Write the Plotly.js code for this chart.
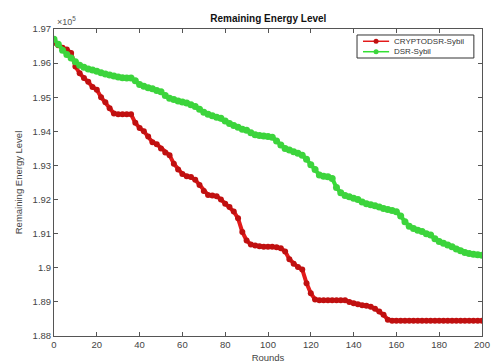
<!DOCTYPE html>
<html>
<head>
<meta charset="utf-8">
<script src="https://cdn.plot.ly/plotly-3.0.1.min.js"></script>
<style>html,body{margin:0;padding:0;background:#fff;}#chart{width:495px;height:363px;}</style>
</head>
<body>
<div id="chart"></div>
<script>
// Rounds (every 2 rounds)
const rounds = [0,2,4,6,8,10,12,14,16,18,20,22,24,26,28,30,32,34,36,38,40,42,44,46,48,50,52,54,56,58,60,62,64,66,68,70,72,74,76,78,80,82,84,86,88,90,92,94,96,98,100,102,104,106,108,110,112,114,116,118,120,122,124,126,128,130,132,134,136,138,140,142,144,146,148,150,152,154,156,158,160,162,164,166,168,170,172,174,176,178,180,182,184,186,188,190,192,194,196,198,200];

// Remaining energy (x1e5) – CRYPTODSR-Sybil
const cryptoDSR = [1.9660,1.9652,1.9645,1.9640,1.9630,1.9590,1.9570,1.9556,1.9545,1.9530,1.9522,1.9500,1.9485,1.9468,1.9452,1.9450,1.9450,1.9450,1.9450,1.9425,
1.9410,1.9400,1.9385,1.9368,1.9362,1.9350,1.9338,1.9330,1.9305,1.9288,1.9275,1.9268,1.9266,1.9258,1.9243,1.9225,1.9213,1.9212,1.9210,1.9200,
1.9188,1.9178,1.9165,1.9145,1.9105,1.9080,1.9068,1.9065,1.9063,1.9062,1.9062,1.9062,1.9060,1.9057,1.9048,1.9025,1.9012,1.9002,1.8995,1.8955,
1.8925,1.8907,1.8905,1.8905,1.8905,1.8905,1.8905,1.8905,1.8905,1.8900,1.8896,1.8893,1.8890,1.8889,1.8886,1.8880,1.8872,1.8862,1.8848,1.8845,
1.8845,1.8845,1.8845,1.8845,1.8845,1.8845,1.8845,1.8845,1.8845,1.8845,1.8845,1.8845,1.8845,1.8845,1.8845,1.8845,1.8845,1.8845,1.8845,1.8845,1.8845];

// Remaining energy (x1e5) – DSR-Sybil
const dsr = [1.9670,1.9655,1.9638,1.9625,1.9615,1.9604,1.9594,1.9588,1.9583,1.9580,1.9576,1.9572,1.9568,1.9565,1.9562,1.9559,1.9557,1.9556,1.9556,1.9548,
1.9537,1.9532,1.9528,1.9525,1.9520,1.9516,1.9505,1.9497,1.9493,1.9489,1.9486,1.9483,1.9478,1.9473,1.9465,1.9456,1.9450,1.9446,1.9441,1.9438,
1.9430,1.9423,1.9417,1.9412,1.9406,1.9403,1.9396,1.9390,1.9388,1.9386,1.9385,1.9383,1.9372,1.9360,1.9350,1.9345,1.9340,1.9336,1.9330,1.9318,
1.9302,1.9288,1.9272,1.9268,1.9267,1.9262,1.9235,1.9220,1.9212,1.9208,1.9204,1.9200,1.9193,1.9188,1.9185,1.9182,1.9178,1.9174,1.9171,1.9168,
1.9164,1.9152,1.9135,1.9122,1.9115,1.9110,1.9106,1.9100,1.9096,1.9085,1.9077,1.9072,1.9067,1.9062,1.9055,1.9050,1.9045,1.9042,1.9040,1.9038,1.9037];

const xTicks = [0,20,40,60,80,100,120,140,160,180,200];
const yTicks = [1.88,1.89,1.9,1.91,1.92,1.93,1.94,1.95,1.96,1.97];
const names = ['CRYPTODSR-Sybil','DSR-Sybil'];
const lineColors = ['#e31a1a', '#33e033'];
const markerColors = ['#c01010', '#3cd43c'];

const traces = [
  {x: rounds, y: cryptoDSR, name: names[0], mode: 'lines+markers', type: 'scatter',
   line: {color: lineColors[0], width: 4}, marker: {color: markerColors[0], size: 6, symbol: 'circle'}},
  {x: rounds, y: dsr, name: names[1], mode: 'lines+markers', type: 'scatter',
   line: {color: lineColors[1], width: 4}, marker: {color: markerColors[1], size: 7, symbol: 'circle'}}
];

const FONT = 'Liberation Sans, Arial, sans-serif';
const axisCommon = {
  showline: true, linecolor: '#555', linewidth: 1, mirror: 'ticks',
  ticks: 'inside', ticklen: 4, tickcolor: '#555', showgrid: false, zeroline: false,
  tickfont: {family: FONT, size: 9.5, color: '#444'}
};

// Hand-drawn MATLAB-style legend (paper coordinates)
const legX0 = 0.708, legX1 = 0.981, legY0 = 0.9055, legY1 = 0.9805;
const itemY = [0.960, 0.926];
const shapes = [
  {type: 'rect', xref: 'paper', yref: 'paper', x0: legX0, x1: legX1, y0: legY0, y1: legY1,
   line: {color: '#333', width: 1}, fillcolor: '#fff', layer: 'above'}
];
const annotations = [
  {text: '\u00d710<sup>5</sup>', xref: 'paper', yref: 'paper', x: 0.002, y: 1.0, xanchor: 'left', yanchor: 'bottom',
   showarrow: false, font: {family: FONT, size: 9, color: '#555'}}
];
names.forEach((n, i) => {
  shapes.push({type: 'line', xref: 'paper', yref: 'paper', x0: 0.722, x1: 0.783, y0: itemY[i], y1: itemY[i],
               line: {color: lineColors[i], width: 1.5}, layer: 'above'});
  shapes.push({type: 'circle', xref: 'paper', yref: 'paper', xsizemode: 'pixel', ysizemode: 'pixel',
               xanchor: 0.7525, yanchor: itemY[i], x0: -2.5, x1: 2.5, y0: -2.5, y1: 2.5,
               fillcolor: markerColors[i], line: {color: markerColors[i], width: 0}, layer: 'above'});
  annotations.push({text: n, xref: 'paper', yref: 'paper', x: 0.789, y: itemY[i], xanchor: 'left', yanchor: 'middle',
                    showarrow: false, font: {family: FONT, size: 8, color: '#333'}});
});

const layout = {
  width: 495, height: 363,
  margin: {l: 54, r: 13, t: 29, b: 27},
  paper_bgcolor: '#fff', plot_bgcolor: '#fff',
  showlegend: false,
  title: {text: '<b>Remaining Energy Level</b>', x: 0.542, xanchor: 'center', y: 0.948, yanchor: 'middle',
          font: {family: FONT, size: 10, color: '#111'}},
  xaxis: Object.assign({}, axisCommon, {range: [0, 200], tickvals: xTicks,
          title: {text: 'Rounds', standoff: 4, font: {family: FONT, size: 9.5, color: '#444'}}}),
  yaxis: Object.assign({}, axisCommon, {range: [1.88, 1.97], tickvals: yTicks,
          title: {text: 'Remaining Energy Level', standoff: 8, font: {family: FONT, size: 9.5, color: '#444'}}}),
  shapes: shapes,
  annotations: annotations
};

Plotly.newPlot('chart', traces, layout, {displayModeBar: false, staticPlot: true});
</script>
</body>
</html>
